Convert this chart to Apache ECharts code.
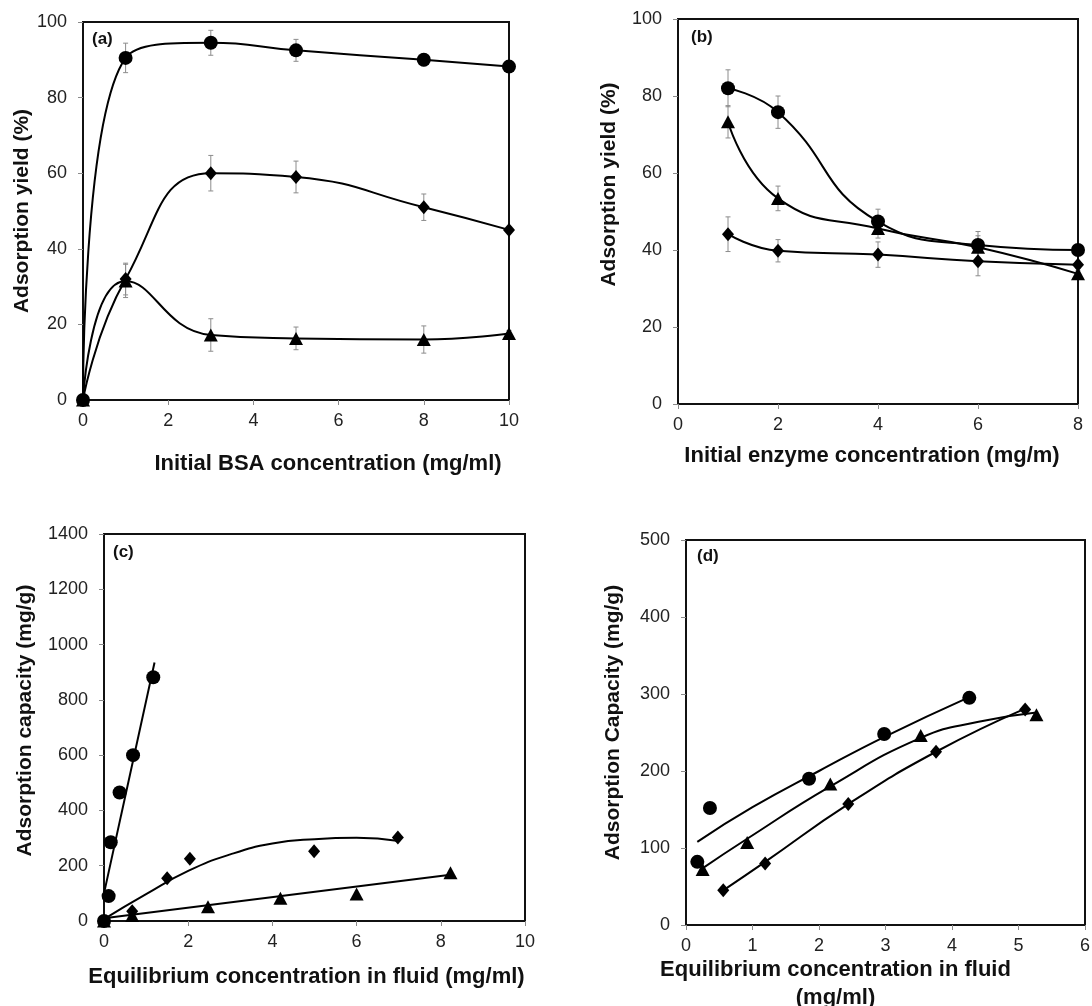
<!DOCTYPE html>
<html>
<head>
<meta charset="utf-8">
<script src="https://cdn.jsdelivr.net/npm/echarts@6/dist/echarts.min.js"></script>
<style>
html,body{margin:0;padding:0;background:#fff;}
#chart{width:1092px;height:1006px;}
</style>
</head>
<body>
<div id="chart"></div>
<script>
// ---------- Panel (a): adsorption yield vs initial BSA concentration ----------
const aX = [0, 1, 3, 5, 8, 10];
const aCircle = [0, 90.5, 94.5, 92.5, 90.0, 88.2];
const aDiamond = [0, 32.0, 60.0, 59.0, 51.0, 45.0];
const aTriangle = [0, 31.5, 17.2, 16.3, 16.0, 17.6];
const aCircleErr = [0, 3.9, 3.3, 2.9, 1.6, 0.8];
const aDiamondErr = [0, 4.2, 4.7, 4.2, 3.5, 0.8];
const aTriangleErr = [0, 4.4, 4.3, 3.0, 3.6, 0.8];

// ---------- Panel (b): adsorption yield vs initial enzyme concentration ----------
const bX = [1, 2, 4, 6, 8];
const bCircle = [82.0, 75.8, 47.4, 41.3, 40.0];
const bTriangle = [73.3, 53.4, 45.6, 40.7, 33.8];
const bDiamond = [44.1, 39.8, 38.8, 37.1, 36.2];
const bCircleErr = [4.8, 4.2, 3.2, 3.5, 0.8];
const bTriangleErr = [4.2, 3.2, 2.5, 3.0, 0.8];
const bDiamondErr = [4.5, 2.9, 3.3, 3.8, 0.8];

// ---------- Panel (c): adsorption capacity vs equilibrium concentration ----------
const cCircleX = [0, 0.11, 0.16, 0.37, 0.69, 1.17];
const cCircleY = [0, 90, 285, 465, 600, 882];
const cDiamondX = [0, 0.67, 1.50, 2.04, 4.99, 6.98];
const cDiamondY = [0, 35, 155, 225, 252, 302];
const cTriangleX = [0, 0.67, 2.47, 4.19, 6.00, 8.23];
const cTriangleY = [0, 20, 52, 82, 98, 175];
// trend lines
const cCircleFitX = [0, 1.2];
const cCircleFitY = [100, 935];
const cDiamondFitX = [0, 1, 2, 3, 4, 5, 6, 7];
const cDiamondFitY = [7, 97, 181, 241, 280, 296, 301, 289];
const cTriangleFitX = [0, 8.23];
const cTriangleFitY = [10, 167];

// ---------- Panel (d): adsorption capacity vs equilibrium concentration ----------
const dCircleX = [0.17, 0.36, 1.85, 2.98, 4.26];
const dCircleY = [82, 152, 190, 248, 295];
const dTriangleX = [0.25, 0.92, 2.17, 3.53, 5.27];
const dTriangleY = [72, 107, 183, 246, 273];
const dDiamondX = [0.56, 1.19, 2.44, 3.76, 5.10];
const dDiamondY = [45, 80, 157, 225, 280];
// trend lines
const dCircleFitX = [0.17, 1, 2, 3, 4.26];
const dCircleFitY = [108, 153, 200, 245, 296];
const dTriangleFitX = [0.22, 0.92, 2.17, 3.53, 4.4, 5.27];
const dTriangleFitY = [72, 112, 180, 243, 264, 276];
const dDiamondFitX = [0.56, 1.19, 2.44, 3.76, 5.10];
const dDiamondFitY = [45, 82, 157, 225, 281];

// ---------- Tick settings ----------
const aXTicks = {min: 0, max: 10, interval: 2};
const aYTicks = {min: 0, max: 100, interval: 20};
const bXTicks = {min: 0, max: 8, interval: 2};
const bYTicks = {min: 0, max: 100, interval: 20};
const cXTicks = {min: 0, max: 10, interval: 2};
const cYTicks = {min: 0, max: 1400, interval: 200};
const dXTicks = {min: 0, max: 6, interval: 1};
const dYTicks = {min: 0, max: 500, interval: 100};

const FONT = "'Liberation Sans', Arial, sans-serif";
const zip = (xs, ys) => xs.map((x, i) => [x, ys[i]]);
const zip3 = (xs, ys, es) => xs.map((x, i) => [x, ys[i], es[i]]);
const plain = v => String(v);

function xAxisCfg(gi, t, name, gap, pad, extraName) {
  return {
    type: 'value', gridIndex: gi, min: t.min, max: t.max, interval: t.interval,
    splitLine: {show: false}, axisLine: {show: false},
    axisTick: {show: true, inside: false, length: 5, lineStyle: {color: '#8a8a8a', width: 1}},
    axisLabel: {fontFamily: FONT, fontSize: 18, color: '#222', margin: 12, formatter: plain},
    name: name, nameLocation: 'middle', nameGap: gap,
    nameTextStyle: Object.assign({fontFamily: FONT, fontSize: 22, fontWeight: 'bold', color: '#111', padding: pad}, extraName || {})
  };
}
function yAxisCfg(gi, t, name, gap, pad) {
  return {
    type: 'value', gridIndex: gi, min: t.min, max: t.max, interval: t.interval,
    splitLine: {show: false}, axisLine: {show: false},
    axisTick: {show: true, inside: false, length: 5, lineStyle: {color: '#8a8a8a', width: 1}},
    axisLabel: {fontFamily: FONT, fontSize: 18, color: '#222', margin: 16, formatter: plain},
    name: name, nameLocation: 'middle', nameGap: gap,
    nameTextStyle: {fontFamily: FONT, fontSize: 21, fontWeight: 'bold', color: '#111', padding: pad}
  };
}

const SYM = {
  circle: {symbol: 'circle', symbolSize: 14},
  diamond: {symbol: 'diamond', symbolSize: [12, 14]},
  triangle: {symbol: 'triangle', symbolSize: [14, 13]}
};

function smoothLine(gi, data, shape) {
  return {
    type: 'line', xAxisIndex: gi, yAxisIndex: gi, data: data, smooth: 0.5, clip: false,
    symbol: SYM[shape].symbol, symbolSize: SYM[shape].symbolSize, showAllSymbol: true,
    itemStyle: {color: '#000'}, lineStyle: {color: '#000', width: 2}, z: 3, animation: false
  };
}
function scatter(gi, data, shape) {
  return {
    type: 'scatter', xAxisIndex: gi, yAxisIndex: gi, data: data, clip: false,
    symbol: SYM[shape].symbol, symbolSize: SYM[shape].symbolSize,
    itemStyle: {color: '#000', opacity: 1}, z: 4, animation: false
  };
}
function fitLine(gi, data, smooth) {
  return {
    type: 'line', xAxisIndex: gi, yAxisIndex: gi, data: data, smooth: smooth, clip: false,
    showSymbol: false, symbol: 'none', lineStyle: {color: '#000', width: 2}, z: 3, animation: false
  };
}
function errRender(params, api) {
  const x = api.value(0), y = api.value(1), e = api.value(2);
  if (!e) return null;
  const p1 = api.coord([x, y + e]);
  const p2 = api.coord([x, y - e]);
  const hw = 2.5;
  const st = {stroke: '#8c8c8c', lineWidth: 1};
  return {
    type: 'group',
    children: [
      {type: 'line', shape: {x1: p1[0], y1: p1[1], x2: p2[0], y2: p2[1]}, style: st},
      {type: 'line', shape: {x1: p1[0] - hw, y1: p1[1], x2: p1[0] + hw, y2: p1[1]}, style: st},
      {type: 'line', shape: {x1: p2[0] - hw, y1: p2[1], x2: p2[0] + hw, y2: p2[1]}, style: st}
    ]
  };
}
function errSeries(gi, data) {
  return {
    type: 'custom', xAxisIndex: gi, yAxisIndex: gi, data: data, renderItem: errRender,
    clip: false, z: 1, silent: true, animation: false
  };
}

const gridBase = {show: true, borderColor: '#111', borderWidth: 2, backgroundColor: 'transparent',
  containLabel: false, outerBoundsMode: 'none'};
const panelFont = "bold 17px 'Liberation Sans', Arial, sans-serif";

const option = {
  animation: false,
  backgroundColor: '#fff',
  grid: [
    Object.assign({left: 83, top: 22, width: 426, height: 378}, gridBase),
    Object.assign({left: 678, top: 19, width: 400, height: 385}, gridBase),
    Object.assign({left: 104, top: 534, width: 421, height: 387}, gridBase),
    Object.assign({left: 686, top: 540, width: 399, height: 385}, gridBase)
  ],
  xAxis: [
    xAxisCfg(0, aXTicks, 'Initial BSA concentration (mg/ml)', 53, [0, 0, 0, 64]),
    xAxisCfg(1, bXTicks, 'Initial enzyme concentration (mg/m)', 41, [0, 12, 0, 0]),
    xAxisCfg(2, cXTicks, 'Equilibrium concentration in fluid (mg/ml)', 45, [0, 16, 0, 0]),
    xAxisCfg(3, dXTicks, 'Equilibrium concentration in fluid\n(mg/ml)', 27, [0, 100, 0, 0], {lineHeight: 28})
  ],
  yAxis: [
    yAxisCfg(0, aYTicks, 'Adsorption yield (%)', 46, [0, 0, 0, 0]),
    yAxisCfg(1, bYTicks, 'Adsorption yield (%)', 58, [0, 0, 0, 54]),
    yAxisCfg(2, cYTicks, 'Adsorption capacity (mg/g)', 68, [0, 0, 0, 14]),
    yAxisCfg(3, dYTicks, 'Adsorption Capacity (mg/g)', 62, [0, 0, 0, 20])
  ],
  graphic: [
    {type: 'text', left: 92, top: 31, style: {text: '(a)', font: panelFont, fill: '#111'}},
    {type: 'text', left: 691, top: 29, style: {text: '(b)', font: panelFont, fill: '#111'}},
    {type: 'text', left: 113, top: 544, style: {text: '(c)', font: panelFont, fill: '#111'}},
    {type: 'text', left: 697, top: 548, style: {text: '(d)', font: panelFont, fill: '#111'}}
  ],
  series: [
    // (a)
    errSeries(0, zip3(aX, aCircle, aCircleErr)),
    errSeries(0, zip3(aX, aDiamond, aDiamondErr)),
    errSeries(0, zip3(aX, aTriangle, aTriangleErr)),
    smoothLine(0, zip(aX, aCircle), 'circle'),
    smoothLine(0, zip(aX, aDiamond), 'diamond'),
    smoothLine(0, zip(aX, aTriangle), 'triangle'),
    // (b)
    errSeries(1, zip3(bX, bCircle, bCircleErr)),
    errSeries(1, zip3(bX, bTriangle, bTriangleErr)),
    errSeries(1, zip3(bX, bDiamond, bDiamondErr)),
    smoothLine(1, zip(bX, bCircle), 'circle'),
    smoothLine(1, zip(bX, bTriangle), 'triangle'),
    smoothLine(1, zip(bX, bDiamond), 'diamond'),
    // (c)
    fitLine(2, zip(cCircleFitX, cCircleFitY), false),
    fitLine(2, zip(cDiamondFitX, cDiamondFitY), true),
    fitLine(2, zip(cTriangleFitX, cTriangleFitY), false),
    scatter(2, zip(cTriangleX, cTriangleY), 'triangle'),
    scatter(2, zip(cDiamondX, cDiamondY), 'diamond'),
    scatter(2, zip(cCircleX, cCircleY), 'circle'),
    // (d)
    fitLine(3, zip(dCircleFitX, dCircleFitY), true),
    fitLine(3, zip(dTriangleFitX, dTriangleFitY), true),
    fitLine(3, zip(dDiamondFitX, dDiamondFitY), true),
    scatter(3, zip(dCircleX, dCircleY), 'circle'),
    scatter(3, zip(dTriangleX, dTriangleY), 'triangle'),
    scatter(3, zip(dDiamondX, dDiamondY), 'diamond')
  ]
};

const chart = echarts.init(document.getElementById('chart'), null, {renderer: 'canvas'});
chart.setOption(option);
</script>
</body>
</html>
